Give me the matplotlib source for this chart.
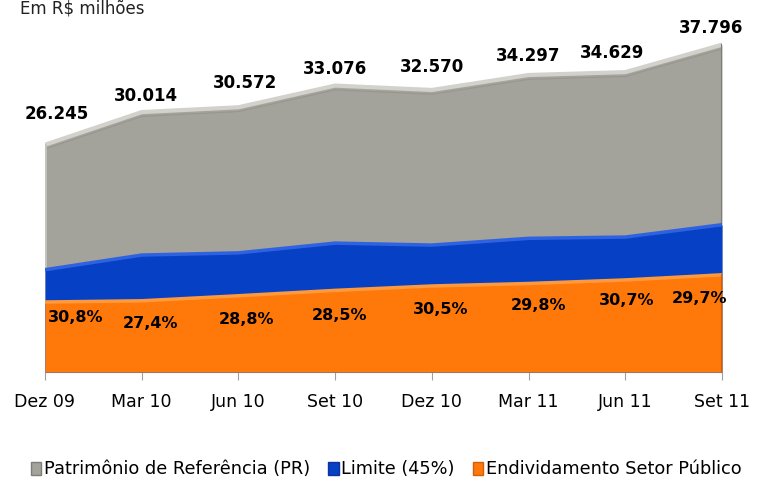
import matplotlib.pyplot as plt
import numpy as np
from matplotlib.patches import Patch

periods = ['Dez 09', 'Mar 10', 'Jun 10', 'Set 10', 'Dez 10', 'Mar 11', 'Jun 11', 'Set 11']
patrimonio = [26245, 30014, 30572, 33076, 32570, 34297, 34629, 37796]
limite = [11810, 13506, 13757, 14884, 14657, 15434, 15583, 17008]
endividamento = [8083, 8224, 8805, 9427, 9934, 10221, 10631, 11225]
pct_labels = ['30,8%', '27,4%', '28,8%', '28,5%', '30,5%', '29,8%', '30,7%', '29,7%']

gray = '#A3A29B'
blue = '#0640C4'
orange = '#FF780A'

fig = plt.figure(figsize=(7.57, 4.84), dpi=100)
ax = fig.add_axes([45 / 757, 112 / 484, 677 / 757, 352 / 484])
x = np.arange(len(periods))

ax.fill_between(x, 0, patrimonio, color=gray, lw=0, zorder=1)
ax.plot(x, patrimonio, color='#D2D1CB', lw=3, zorder=2)
ax.plot(x, np.array(patrimonio) - 500, color='#8F8E88', lw=0.8, alpha=0.6, zorder=2)

ax.fill_between(x, 0, limite, color=blue, lw=0, zorder=3)
ax.plot(x, limite, color='#2E62E0', lw=2.5, zorder=4)

ax.fill_between(x, 0, endividamento, color=orange, lw=0, zorder=5)
ax.plot(x, endividamento, color='#FF9A3C', lw=2.5, zorder=6)

# bordas laterais
ax.plot([0, 0], [0, patrimonio[0]], color='#C4C3BD', lw=2, zorder=2)
ax.plot([x[-1], x[-1]], [0, patrimonio[-1]], color='#7E7D77', lw=1.5, zorder=2)
ax.plot([x[-1], x[-1]], [0, endividamento[-1]], color='#D06008', lw=1.5, zorder=6)

pr_offsets = [(8.4, 15.5), (3.3, 5), (5, 10.8), (0, 5.8), (0, 10), (0, 7.2), (-9.2, 7.2), (-7.6, 5.4)]
for xi, v, off in zip(x, patrimonio, pr_offsets):
    lbl = f'{v:,}'.replace(',', '.')
    ax.annotate(lbl, (xi, v), xytext=off, textcoords='offset points',
                ha='center', va='bottom', fontsize=12, fontweight='bold', zorder=10)

pct_offsets = [(22, -11.5), (6, -16.7), (6, -17), (3, -18), (6, -17), (7, -16), (1, -15), (-16, -17)]
for xi, v, lbl, off in zip(x, endividamento, pct_labels, pct_offsets):
    ax.annotate(lbl, (xi, v), xytext=off, textcoords='offset points',
                ha='center', va='center', fontsize=11.5, fontweight='bold', zorder=10)

ax.set_xlim(0, len(periods) - 1)
ax.set_ylim(0, 40650)
ax.set_xticks(x)
ax.set_xticklabels(periods, fontsize=12.5)
ax.set_yticks([])
for s in ['left', 'right', 'top']:
    ax.spines[s].set_visible(False)
ax.spines['bottom'].set_color('#A0A0A0')
ax.tick_params(axis='x', length=6, color='#A0A0A0', pad=9)

fig.text(20 / 757, 1.0, 'Em R$ milhões', fontsize=12, color='#222222', ha='left', va='top')

handles = [Patch(facecolor=gray, edgecolor='#7E7D77'),
           Patch(facecolor=blue, edgecolor='#1030A0'),
           Patch(facecolor=orange, edgecolor='#D06008')]
names = ['Patrimônio de Referência (PR)', 'Limite (45%)', 'Endividamento Setor Público']
fig.legend(handles, names, loc='center', bbox_to_anchor=(0.51, 0.03), ncol=3,
           frameon=False, fontsize=12.8, handlelength=0.6, handleheight=0.8,
           handletextpad=0.15, columnspacing=1.0)

fig.savefig('out.png', dpi=100)
